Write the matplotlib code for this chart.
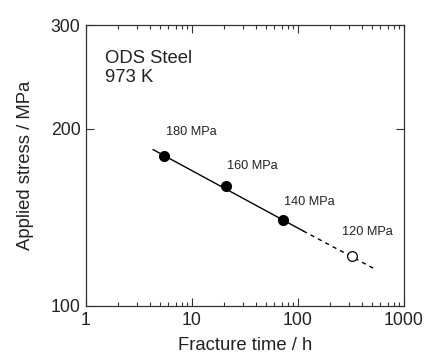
import numpy as np
import matplotlib
matplotlib.use('Agg')
import matplotlib.pyplot as plt
from matplotlib.ticker import FixedLocator, NullLocator, NullFormatter
plt.rcParams["font.family"] = ["Liberation Sans", "DejaVu Sans"]

# ------------------------------------------ data
time_ruptured = [5.4, 20.8, 71.7]      # h, filled symbols
stress_ruptured = [180, 160, 140]      # MPa
time_running = [321]                   # h, open symbol
stress_running = [121.5]
fit_solid_x = [4.3, 112]
fit_solid_y = [184.3, 134.1]
fit_dash_x = [112, 544]
fit_dash_y = [134.1, 115.3]
labels = ['180 MPa', '160 MPa', '140 MPa', '120 MPa']
yticks = [100, 200, 300]
xticks = [1, 10, 100, 1000]

fig = plt.figure(figsize=(4.26, 3.54), dpi=100)
ax = fig.add_axes([86/426, 1 - 306/354, 318/426, 281/354])

ax.plot(fit_solid_x, fit_solid_y, color='black', lw=1.0, ls='-')
ax.plot(fit_dash_x, fit_dash_y, color='black', lw=1.0, ls=(0, (3, 3)))
ax.plot(time_ruptured, stress_ruptured, 'o', ms=7, mfc='black', mec='black')
ax.plot(time_running, stress_running, 'o', ms=7, mfc='white', mec='black', mew=0.9)

# labels next to points (offsets in pixels)
pts = list(zip(time_ruptured + time_running, stress_ruptured + stress_running))
offs = [(2, 24), (1, 20), (1, 18), (-10, 24)]
for (x, y), lab, (dx, dy) in zip(pts, labels, offs):
    ax.annotate(lab, (x, y), xytext=(dx, dy), textcoords='offset pixels',
                fontsize=9.2, color='#222222', ha='left', va='center')

ax.text((105 - 86) / 318, (306 - 68) / 281, 'ODS Steel\n973 K', transform=ax.transAxes,
        fontsize=13.3, va='center', ha='left', linespacing=1.1, color='#222222')

ax.set_xscale('log')
ax.set_yscale('log')
ax.set_xlim(1, 1000)
ax.set_ylim(100, 300)
ax.xaxis.set_major_locator(FixedLocator(xticks))
ax.set_xticklabels([str(t) for t in xticks])
ax.yaxis.set_major_locator(FixedLocator(yticks))
ax.yaxis.set_minor_locator(NullLocator())
ax.yaxis.set_minor_formatter(NullFormatter())
ax.set_yticklabels([str(t) for t in yticks])

ax.tick_params(which='both', direction='in', top=True, right=True, width=0.8, colors='#333333',
               labelcolor='#222222', labelsize=12.7)
ax.tick_params(which='major', length=6, pad=4)
ax.tick_params(which='minor', length=3)
for s in ax.spines.values():
    s.set_linewidth(0.9)
    s.set_color('#333333')

ax.set_xlabel('Fracture time / h', fontsize=13.3, color='#222222', labelpad=6)
ax.set_ylabel('Applied stress / MPa', fontsize=13.3, color='#222222', labelpad=12)

fig.savefig('out.png', dpi=100)
